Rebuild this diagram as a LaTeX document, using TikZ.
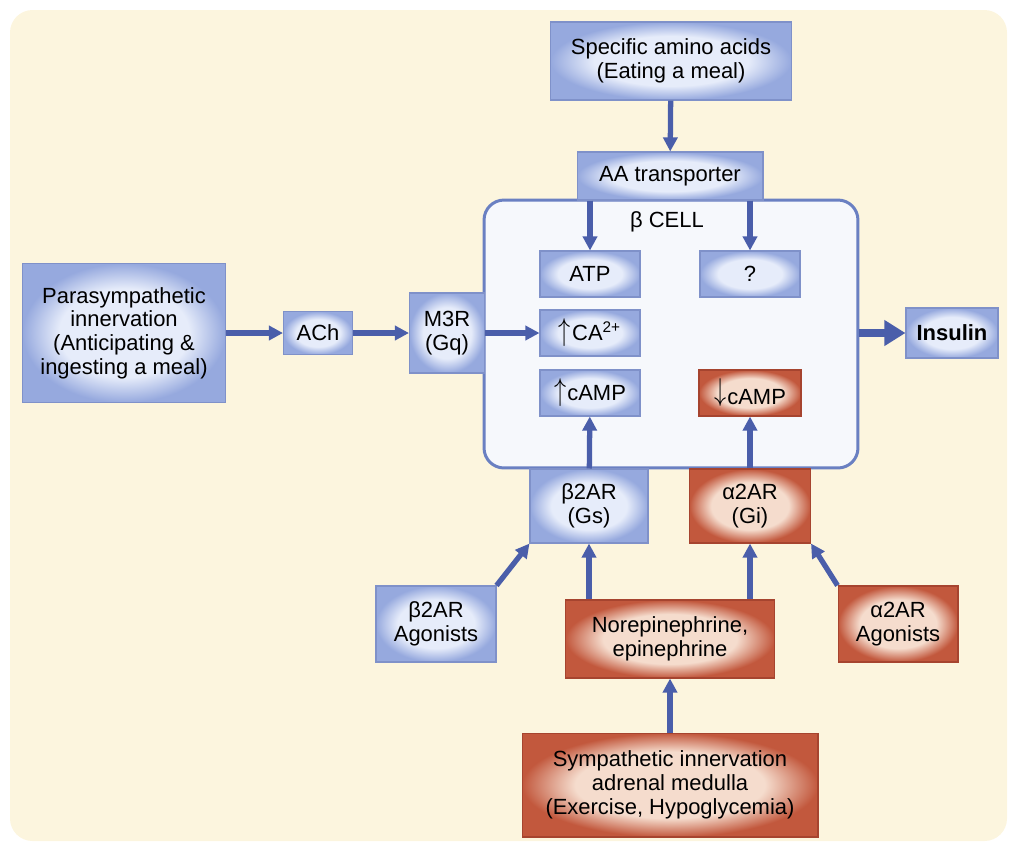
\documentclass[tikz,border=0pt]{standalone}
\usepackage{fontspec}
\usepackage{graphicx}
\setmainfont{Liberation Sans}
\usetikzlibrary{arrows.meta,positioning,shapes}

\definecolor{bgcream}{HTML}{FCF5DE}
\definecolor{blueinner}{HTML}{E6ECFA}
\definecolor{blueouter}{HTML}{96A9DE}
\definecolor{blueline}{HTML}{7F91C9}
\definecolor{redinner}{HTML}{F5DCCD}
\definecolor{redouter}{HTML}{C2583D}
\definecolor{redline}{HTML}{A6442F}
\definecolor{cellfill}{HTML}{F6F8FC}
\definecolor{cellline}{HTML}{6A80C2}
\definecolor{arrowblue}{HTML}{4A5EAA}

\pgfdeclareradialshading{bluefill}{\pgfpoint{0bp}{0bp}}{%
    color(0bp)=(blueinner); color(16bp)=(blueinner);
    color(25bp)=(blueouter); color(50bp)=(blueouter)}
\pgfdeclareradialshading{redfill}{\pgfpoint{0bp}{0bp}}{%
    color(0bp)=(redinner); color(16bp)=(redinner);
    color(25bp)=(redouter); color(50bp)=(redouter)}

\newcommand{\up}{\raisebox{-0.05ex}{\scalebox{1.15}[1.5]{$\uparrow$}}\kern0.05em}
\newcommand{\down}{\raisebox{0.35ex}{\scalebox{1.15}[1.5]{$\downarrow$}}\kern0.05em}

\begin{document}
\begin{tikzpicture}[
        x=0.02cm, y=-0.02cm,
        box/.style={rectangle, inner sep=0pt, align=center,
            font=\fontsize{12.5}{13.5}\selectfont},
        bluebox/.style={box, shading=bluefill, draw=blueline, line width=0.6pt},
        redbox/.style={box, shading=redfill, draw=redline, line width=0.6pt},
        cellbox/.style={rectangle, rounded corners=0.4cm, draw=cellline,
            fill=cellfill, line width=1.7pt, minimum width=7.48cm,
            minimum height=5.36cm},
        flow/.style={draw=arrowblue, line width=3pt,
            -{Triangle[width=8pt, length=8pt]}},
        bigflow/.style={draw=arrowblue, line width=5pt,
            -{Triangle[width=14pt, length=12pt]}},
    ]
        \useasboundingbox (0,0) rectangle (1013,846);
        \fill[bgcream, rounded corners=0.45cm] (10,10) rectangle (1007,841);

        % the beta cell
        \node[cellbox] (cell) at (671,334) {};
        \node[font=\fontsize{12.5}{13.5}\selectfont] (celllabel) at (667,222) {β CELL};

        % inputs on top
        \node[bluebox, minimum width=4.82cm, minimum height=1.56cm] (amino) at (671,61)
            {Specific amino acids\\(Eating a meal)};
        \node[bluebox, minimum width=3.72cm, minimum height=0.96cm] (aatr) at (670,176)
            {AA transporter};

        % inside the cell
        \node[bluebox, minimum width=2cm, minimum height=0.92cm] (atp) at (590,274) {ATP};
        \node[bluebox, minimum width=2cm, minimum height=0.92cm] (unknown) at (750,274) {?};
        \node[bluebox, minimum width=2cm, minimum height=0.92cm] (ca) at (590,333)
            {\up CA\textsuperscript{2+}};
        \node[bluebox, minimum width=2cm, minimum height=0.92cm] (campup) at (590,393)
            {\up cAMP};
        \node[redbox, minimum width=2.04cm, minimum height=0.92cm] (campdown) at (750,393)
            {\down cAMP};

        % parasympathetic side
        \node[bluebox, minimum width=4.06cm, minimum height=2.78cm] (para) at (124,333)
            {Parasympathetic\\innervation\\(Anticipating \&\\ingesting a meal)};
        \node[bluebox, minimum width=1.38cm, minimum height=0.86cm] (ach) at (318,333) {ACh};
        \node[bluebox, minimum width=1.5cm, minimum height=1.6cm] (m3r) at (447,333)
            {M3R\\(Gq)};

        % output
        \node[bluebox, minimum width=1.84cm, minimum height=1cm,
            font=\fontsize{12.5}{13.5}\selectfont\bfseries] (insulin) at (952,333) {Insulin};

        % adrenergic receptors
        \node[bluebox, minimum width=2.36cm, minimum height=1.48cm] (b2gs) at (589,506)
            {β2AR\\(Gs)};
        \node[redbox, minimum width=2.42cm, minimum height=1.48cm] (a2gi) at (750,506)
            {α2AR\\(Gi)};
        \node[bluebox, minimum width=2.4cm, minimum height=1.52cm] (b2ag) at (436,624)
            {β2AR\\Agonists};
        \node[redbox, minimum width=2.4cm, minimum height=1.52cm] (a2ag) at (898,624)
            {α2AR\\Agonists};
        \node[redbox, minimum width=4.18cm, minimum height=1.56cm] (norepi) at (670,639)
            {Norepinephrine,\\epinephrine};
        \node[redbox, minimum width=5.92cm, minimum height=2.08cm] (symp) at (670,785)
            {Sympathetic innervation\\adrenal medulla\\(Exercise, Hypoglycemia)};

        % arrows
        \draw[flow] (amino) -- (aatr);
        \draw[flow] (atp |- aatr.south) -- (atp.north);
        \draw[flow] (unknown |- aatr.south) -- (unknown.north);
        \draw[flow] (para) -- (ach);
        \draw[flow] (ach) -- (m3r);
        \draw[flow] (m3r.east) -- (ca.west);
        \draw[flow] (b2gs) -- (campup);
        \draw[flow] (a2gi) -- (campdown);
        \draw[flow] (b2ag.north east) -- (b2gs.south west);
        \draw[flow] (a2ag.north west) -- (a2gi.south east);
        \draw[flow] (b2gs |- norepi.north) -- (b2gs.south);
        \draw[flow] (a2gi |- norepi.north) -- (a2gi.south);
        \draw[flow] (symp) -- (norepi);
        \draw[bigflow] (cell.east |- insulin) -- (insulin.west);
    \end{tikzpicture}
\end{document}
